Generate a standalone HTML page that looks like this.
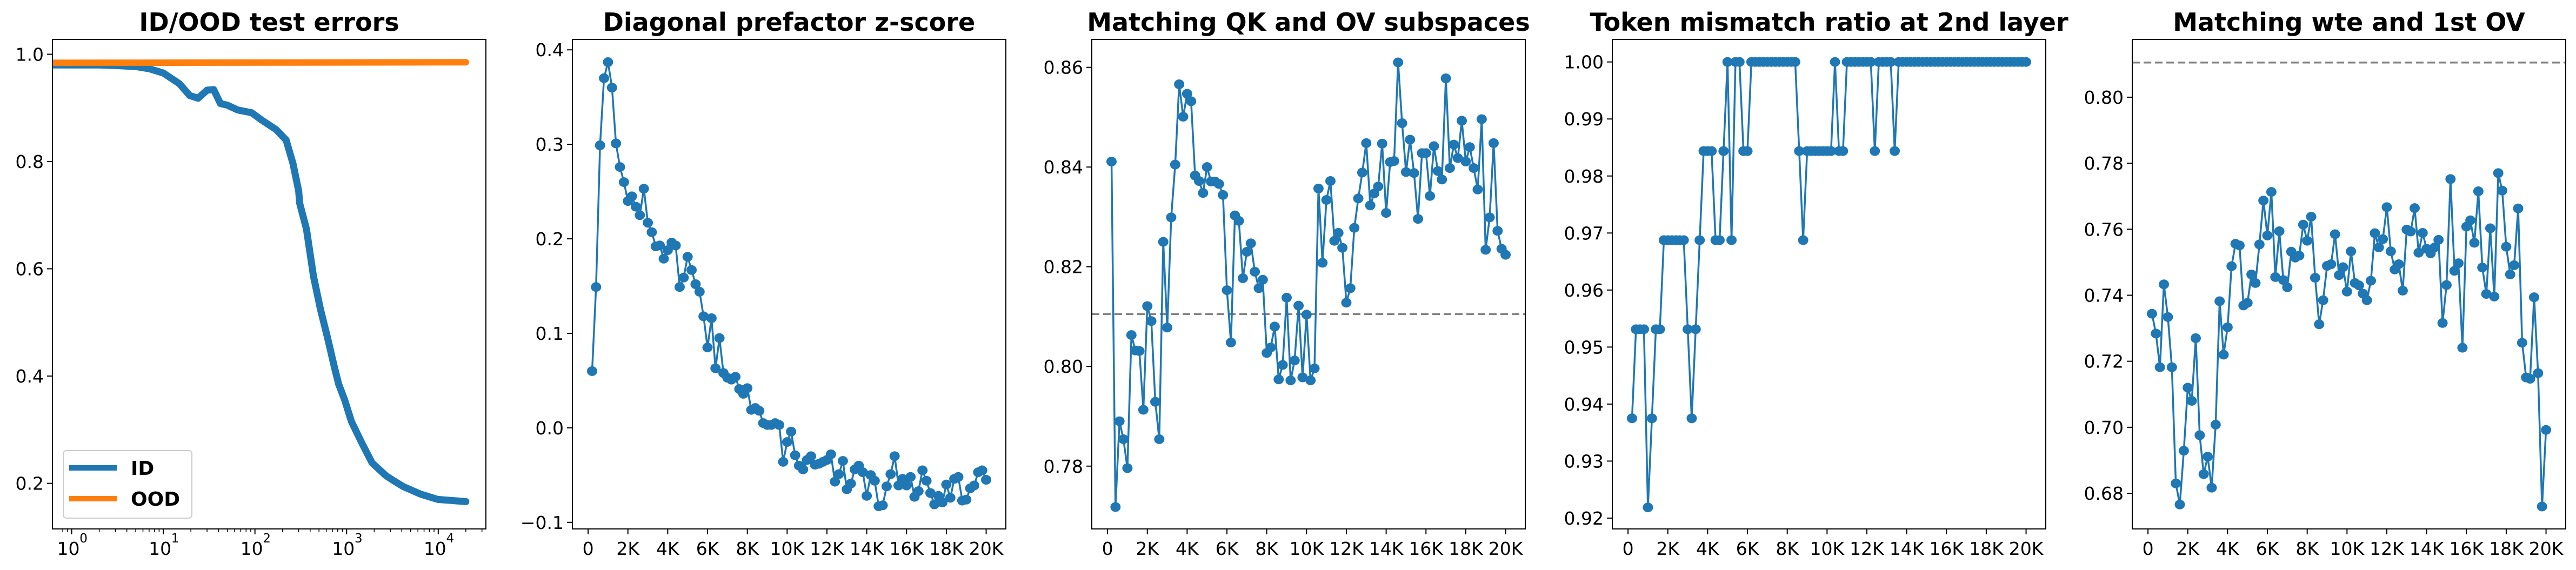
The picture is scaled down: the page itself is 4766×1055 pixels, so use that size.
<!DOCTYPE html>
<html><head><meta charset="utf-8"><style>
html,body{margin:0;padding:0;background:#fff;}
svg{display:block;font-family:"DejaVu Sans","Liberation Sans",sans-serif;}
</style></head><body>
<svg id="fig" width="4766" height="1055" viewBox="0 0 4766 1055" xmlns="http://www.w3.org/2000/svg"></svg>
<script>
// ---- data ----
const idSteps = [0.62,1,2,3,5,7,10,15,19.4,24,30,35.5,42,50,65,92,119,169,219,260,300,308,365,435,518,620,735,820,950,1130,1470,1900,2700,3400,4150,6400,9900,20000];
const idErr   = [0.980,0.980,0.980,0.979,0.977,0.973,0.965,0.945,0.923,0.918,0.933,0.934,0.908,0.905,0.896,0.891,0.877,0.860,0.840,0.796,0.745,0.722,0.674,0.586,0.525,0.471,0.417,0.385,0.356,0.315,0.275,0.238,0.214,0.203,0.194,0.180,0.170,0.166];
const oodSteps = [0.62,20000];
const oodErr   = [0.984,0.985];

const zscore = [0.060,0.149,0.299,0.370,0.387,0.360,0.301,0.276,0.260,0.240,0.245,0.234,0.225,0.253,0.217,0.207,0.192,0.193,0.179,0.188,0.196,0.193,0.149,0.159,0.181,0.167,0.152,0.144,0.118,0.085,0.116,0.063,0.095,0.058,0.053,0.051,0.054,0.041,0.036,0.042,0.019,0.021,0.018,0.005,0.003,0.003,0.005,0.003,-0.036,-0.015,-0.004,-0.029,-0.040,-0.044,-0.034,-0.030,-0.039,-0.038,-0.036,-0.034,-0.028,-0.057,-0.049,-0.035,-0.065,-0.059,-0.044,-0.040,-0.047,-0.072,-0.050,-0.056,-0.083,-0.082,-0.062,-0.049,-0.030,-0.061,-0.054,-0.061,-0.052,-0.073,-0.067,-0.045,-0.056,-0.069,-0.081,-0.072,-0.079,-0.060,-0.074,-0.054,-0.052,-0.077,-0.076,-0.064,-0.061,-0.047,-0.045,-0.055];

const qkov = [0.8411,0.7718,0.789,0.7854,0.7796,0.8063,0.8032,0.8031,0.7913,0.8121,0.8091,0.7929,0.7854,0.825,0.8078,0.8299,0.8405,0.8566,0.8501,0.8547,0.8532,0.8383,0.8372,0.8348,0.84,0.8371,0.8371,0.8366,0.8344,0.8153,0.8048,0.8303,0.8292,0.8177,0.823,0.8247,0.819,0.8157,0.8174,0.8027,0.8038,0.808,0.7974,0.8003,0.8138,0.7972,0.8012,0.8122,0.7978,0.8104,0.7972,0.7996,0.8357,0.8208,0.8334,0.8372,0.8252,0.8268,0.8238,0.8128,0.8157,0.8278,0.8337,0.8389,0.8448,0.8323,0.8347,0.8361,0.8447,0.8308,0.841,0.8412,0.861,0.8488,0.839,0.8455,0.8388,0.8296,0.8428,0.8428,0.8342,0.8442,0.8392,0.8375,0.8578,0.8398,0.8445,0.8418,0.8493,0.8411,0.844,0.8398,0.8355,0.8496,0.8234,0.8299,0.8448,0.8272,0.8236,0.8224];

const mismatchLevels = [1.0,0.984375,0.96875,0.953125,0.9375,0.921875];
const mismatchIdx = [4,3,3,3,5,4,3,3,2,2,2,2,2,2,3,4,3,2,1,1,1,2,2,1,0,2,0,0,1,1,0,0,0,0,0,0,0,0,0,0,0,0,1,2,1,1,1,1,1,1,1,0,1,1,0,0,0,0,0,0,0,1,0,0,0,0,1,0,0,0,0,0,0,0,0,0,0,0,0,0,0,0,0,0,0,0,0,0,0,0,0,0,0,0,0,0,0,0,0,0];

const wteov = [0.7344,0.7284,0.7182,0.7433,0.7334,0.7182,0.683,0.6766,0.6929,0.712,0.708,0.727,0.6976,0.6858,0.6911,0.6817,0.7008,0.7382,0.722,0.7303,0.7488,0.7556,0.7551,0.7369,0.7377,0.7463,0.7437,0.7554,0.7687,0.7581,0.7713,0.7455,0.7594,0.7446,0.7424,0.7532,0.7514,0.752,0.7614,0.7565,0.7638,0.7453,0.7312,0.7385,0.7489,0.7494,0.7585,0.7461,0.7485,0.7411,0.7533,0.7437,0.743,0.7405,0.7385,0.7444,0.7588,0.7545,0.757,0.7667,0.7533,0.7478,0.7494,0.7414,0.7599,0.7593,0.7664,0.7529,0.7589,0.7541,0.7527,0.7545,0.7568,0.7316,0.7431,0.7752,0.7474,0.7497,0.7241,0.7608,0.7627,0.7559,0.7715,0.7484,0.7404,0.7603,0.7396,0.777,0.7717,0.7547,0.7463,0.7491,0.7663,0.7256,0.7151,0.7147,0.7394,0.7164,0.676,0.6992];

const baselineRef = 0.8105;
const stepTicks = [0,2000,4000,6000,8000,10000,12000,14000,16000,18000,20000];
const stepTickLabels = ["0","2K","4K","6K","8K","10K","12K","14K","16K","18K","20K"];
const errTicks = [0.2,0.4,0.6,0.8,1.0];
const zTicks = [-0.1,0.0,0.1,0.2,0.3,0.4];
const qkTicks = [0.78,0.80,0.82,0.84,0.86];
const mmTicks = [0.92,0.93,0.94,0.95,0.96,0.97,0.98,0.99,1.00];
const wteTicks = [0.68,0.70,0.72,0.74,0.76,0.78,0.80];
const titles = ["ID/OOD test errors","Diagonal prefactor z-score","Matching QK and OV subspaces","Token mismatch ratio at 2nd layer","Matching wte and 1st OV"];

// ---- rendering ----
const NS="http://www.w3.org/2000/svg";
const svg=document.getElementById('fig');
const LEFTS=[97,1059,2020,2983,3945], W=802, TOP=73, BOT=979;
const BLUE="#1f77b4", ORANGE="#ff7f0e";
function el(tag,attrs,parent){const e=document.createElementNS(NS,tag);for(const k in attrs)e.setAttribute(k,attrs[k]);(parent||svg).appendChild(e);return e;}
function fmt(v,d){const s=Math.abs(v).toFixed(d);return (v<-1e-9?"\u2212":"")+s;}
const steps=[];for(let i=1;i<=100;i++)steps.push(200*i);

function panel(p,title,ymin,ymax,xmin,xmax,logx){
  const L=LEFTS[p];
  const g=el('g',{});
  
  
  const sx=logx?(v=>L+(Math.log10(v)-xmin)/(xmax-xmin)*W):(v=>L+(v-xmin)/(xmax-xmin)*W);
  const sy=v=>BOT-(v-ymin)/(ymax-ymin)*(BOT-TOP);
  const t=el('text',{x:L+W/2,y:57,'text-anchor':'middle','font-size':46,'font-weight':'bold',fill:'#000'},g);
  t.textContent=title;
  
  
  const plot=el('g',{'clip-path':'url(#clip'+p+')'},g);
  const cp=el('clipPath',{id:'clip'+p},g);
  el('rect',{x:L,y:TOP,width:W,height:BOT-TOP},cp);
  return {g,plot,sx,sy,L};
}
function frame(P){
  const r=el('rect',{x:P.L,y:TOP,width:W,height:BOT-TOP,fill:'none',stroke:'#000','stroke-width':2},P.g);
  
  
}
function yTicks(P,ticks,d){
  ticks.forEach(v=>{const y=P.sy(v);
    el('line',{x1:P.L-10,x2:P.L,y1:y,y2:y,stroke:'#000','stroke-width':2},P.g);
    const t=el('text',{x:P.L-16,y:y+12,'text-anchor':'end','font-size':33},P.g);t.textContent=fmt(v,d);
    
    });
}
function xTicksLin(P,ticks,labels){
  ticks.forEach((v,i)=>{const x=P.sx(v);
    el('line',{x1:x,x2:x,y1:BOT,y2:BOT+10,stroke:'#000','stroke-width':2},P.g);
    const t=el('text',{x:x,y:1027,'text-anchor':'middle','font-size':33},P.g);t.textContent=labels[i];
    
    });
}
function lineMarkers(P,xs,ys,name){
  const pts=xs.map((x,i)=>P.sx(x).toFixed(1)+','+P.sy(ys[i]).toFixed(1)).join(' ');
  const pl=el('polyline',{points:pts,fill:'none',stroke:BLUE,'stroke-width':3.5,'stroke-linejoin':'round'},P.plot);
  
  
  xs.forEach((x,i)=>{const c=el('ellipse',{cx:P.sx(x),cy:P.sy(ys[i]),rx:9.5,ry:9,fill:BLUE},P.plot);
    
    });
}
function hdash(P,v){
  const l=el('line',{x1:P.L,x2:P.L+W,y1:P.sy(v),y2:P.sy(v),stroke:'#808080','stroke-width':3.5,'stroke-dasharray':'14,7'},P.plot);
  
  
}
const XMIN=-990+200, XMAX=20000+990;

// Panel 1 (log x)
{const xmin=Math.log10(0.617), xmax=4.52;
 const P=panel(0,titles[0],0.115,1.0276,xmin,xmax,true);
 const mk=(xs,ys,col,name,w)=>{const pts=xs.map((x,i)=>P.sx(x).toFixed(1)+','+P.sy(ys[i]).toFixed(1)).join(' ');
   const pl=el('polyline',{points:pts,fill:'none',stroke:col,'stroke-width':w,'stroke-linejoin':'round','stroke-linecap':'round'},P.plot);
   
   };
 mk(idSteps,idErr,BLUE,'id-error-line',13);
 mk(oodSteps,oodErr,ORANGE,'ood-error-line',12);
 frame(P); yTicks(P,errTicks,1);
 for(let e=0;e<=4;e++){const x=P.sx(Math.pow(10,e));
   el('line',{x1:x,x2:x,y1:BOT,y2:BOT+10,stroke:'#000','stroke-width':2},P.g);
   const t=el('text',{x:x-6,y:1027,'text-anchor':'middle','font-size':33},P.g);t.textContent='10';
   
   
   const s=el('text',{x:x+22,y:1004,'text-anchor':'middle','font-size':23},P.g);s.textContent=String(e);
   for(let m=2;m<=9;m++){const v=m*Math.pow(10,e);if(Math.log10(v)>xmax)break;const xm=P.sx(v);
     el('line',{x1:xm,x2:xm,y1:BOT,y2:BOT+6,stroke:'#000','stroke-width':1.5},P.g);}
 }
 {const xm=P.sx(0.8);el('line',{x1:xm,x2:xm,y1:BOT,y2:BOT+6,stroke:'#000','stroke-width':1.5},P.g);
  const xm2=P.sx(0.9);el('line',{x1:xm2,x2:xm2,y1:BOT,y2:BOT+6,stroke:'#000','stroke-width':1.5},P.g);}
 const lg=el('g',{},P.g);
 
 
 el('rect',{x:117,y:834,width:238,height:125,rx:6,fill:'#fff','fill-opacity':0.8,stroke:'#ccc','stroke-width':2},lg);
 el('line',{x1:128,x2:216,y1:866,y2:866,stroke:BLUE,'stroke-width':10},lg);
 el('line',{x1:128,x2:216,y1:923,y2:923,stroke:ORANGE,'stroke-width':10},lg);
 const a=el('text',{x:242,y:879,'font-size':36,'font-weight':'bold'},lg);a.textContent='ID';
 
 
 const b=el('text',{x:242,y:936,'font-size':36,'font-weight':'bold'},lg);b.textContent='OOD';
 
 
}
// Panel 2
{const P=panel(1,titles[1],-0.107,0.411,XMIN,XMAX);
 lineMarkers(P,steps,zscore,'zscore'); frame(P); yTicks(P,zTicks,1); xTicksLin(P,stepTicks,stepTickLabels);}
// Panel 3
{const P=panel(2,titles[2],0.7674,0.8656,XMIN,XMAX);
 hdash(P,baselineRef); lineMarkers(P,steps,qkov,'qk-ov'); frame(P); yTicks(P,qkTicks,2); xTicksLin(P,stepTicks,stepTickLabels);}
// Panel 4
{const P=panel(3,titles[3],0.9181,1.00395,XMIN,XMAX);
 const mm=mismatchIdx.map(i=>mismatchLevels[i]);
 lineMarkers(P,steps,mm,'mismatch'); frame(P); yTicks(P,mmTicks,2); xTicksLin(P,stepTicks,stepTickLabels);}
// Panel 5
{const P=panel(4,titles[4],0.6692,0.8175,XMIN,XMAX);
 hdash(P,baselineRef); lineMarkers(P,steps,wteov,'wte-ov'); frame(P); yTicks(P,wteTicks,2); xTicksLin(P,stepTicks,stepTickLabels);}
</script>
</body></html>
